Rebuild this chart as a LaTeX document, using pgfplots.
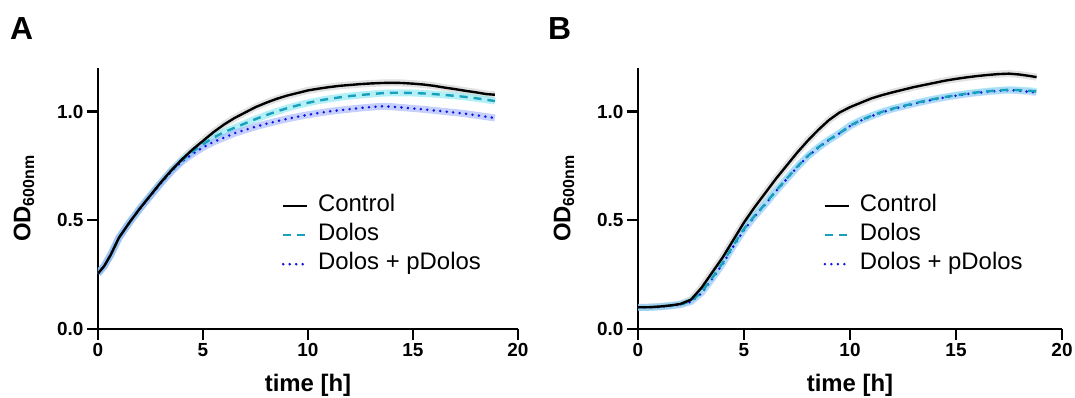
\documentclass[border=0pt]{standalone}
\usepackage{pgfplots}
\pgfplotsset{compat=1.18}
\usepackage{fontspec}
\setmainfont{Liberation Sans}
\definecolor{dolos}{RGB}{24,160,188}
\definecolor{pdolos}{RGB}{20,20,225}
\definecolor{bandgray}{RGB}{200,200,200}
\definecolor{bandcyan}{RGB}{120,228,240}
\definecolor{bandblue}{RGB}{150,170,255}

\pgfplotstableread{
t v
0 0.255
0.3 0.29
0.6 0.34
1.0 0.42
1.5 0.49
2.0 0.555
2.5 0.615
3.0 0.675
3.5 0.73
4.0 0.78
4.5 0.825
5.0 0.865
5.5 0.905
6.0 0.94
6.5 0.97
7.0 0.995
7.5 1.02
8.0 1.04
8.5 1.058
9.0 1.073
9.5 1.085
10.0 1.097
10.5 1.105
11.0 1.112
11.5 1.118
12.0 1.122
12.5 1.126
13.0 1.129
13.5 1.131
14.0 1.132
14.5 1.131
15.0 1.128
15.5 1.124
16.0 1.118
16.5 1.11
17.0 1.103
17.5 1.095
18.0 1.088
18.5 1.08
18.9 1.077
}\ctrlA

\pgfplotstableread{
t v
0 0.255
0.3 0.29
0.6 0.34
1.0 0.42
1.5 0.49
2.0 0.555
2.5 0.615
3.0 0.673
3.5 0.728
4.0 0.775
4.5 0.815
5.0 0.85
5.5 0.88
6.0 0.905
6.5 0.925
7.0 0.945
7.5 0.965
8.0 0.983
8.5 1.0
9.0 1.015
9.5 1.028
10.0 1.04
10.5 1.05
11.0 1.058
11.5 1.065
12.0 1.071
12.5 1.076
13.0 1.08
13.5 1.084
14.0 1.086
14.5 1.086
15.0 1.085
15.5 1.083
16.0 1.08
16.5 1.076
17.0 1.072
17.5 1.067
18.0 1.061
18.5 1.054
18.9 1.048
}\dolosA

\pgfplotstableread{
t v
0 0.255
0.3 0.29
0.6 0.34
1.0 0.42
1.5 0.49
2.0 0.553
2.5 0.612
3.0 0.67
3.5 0.725
4.0 0.77
4.5 0.805
5.0 0.835
5.5 0.86
6.0 0.88
6.5 0.9
7.0 0.915
7.5 0.93
8.0 0.943
8.5 0.955
9.0 0.966
9.5 0.976
10.0 0.985
10.5 0.993
11.0 1.0
11.5 1.006
12.0 1.011
12.5 1.016
13.0 1.02
13.5 1.024
14.0 1.022
14.5 1.018
15.0 1.014
15.5 1.01
16.0 1.005
16.5 1.0
17.0 0.995
17.5 0.99
18.0 0.983
18.5 0.976
18.9 0.97
}\pdolosA

\pgfplotstableread{
t v
0 0.1
0.5 0.1
1.0 0.103
1.5 0.108
2.0 0.115
2.5 0.135
3.0 0.19
3.5 0.26
4.0 0.33
4.5 0.41
5.0 0.49
5.5 0.56
6.0 0.625
6.5 0.69
7.0 0.75
7.5 0.81
8.0 0.865
8.5 0.915
9.0 0.96
9.5 0.995
10.0 1.02
10.5 1.04
11.0 1.06
11.5 1.075
12.0 1.088
12.5 1.1
13.0 1.112
13.5 1.122
14.0 1.132
14.5 1.142
15.0 1.15
15.5 1.157
16.0 1.163
16.5 1.168
17.0 1.172
17.5 1.174
18.0 1.17
18.5 1.163
18.8 1.158
}\ctrlB

\pgfplotstableread{
t v
0 0.1
0.5 0.1
1.0 0.102
1.5 0.107
2.0 0.113
2.5 0.128
3.0 0.17
3.5 0.235
4.0 0.305
4.5 0.385
5.0 0.46
5.5 0.52
6.0 0.575
6.5 0.635
7.0 0.69
7.5 0.745
8.0 0.795
8.5 0.835
9.0 0.87
9.5 0.9
10.0 0.935
10.5 0.96
11.0 0.98
11.5 0.998
12.0 1.013
12.5 1.025
13.0 1.037
13.5 1.048
14.0 1.058
14.5 1.067
15.0 1.075
15.5 1.082
16.0 1.088
16.5 1.093
17.0 1.097
17.5 1.1
18.0 1.098
18.5 1.095
18.8 1.092
}\dolosB

\pgfplotstableread{
t v
0 0.1
0.5 0.1
1.0 0.102
1.5 0.106
2.0 0.112
2.5 0.125
3.0 0.165
3.5 0.23
4.0 0.3
4.5 0.38
5.0 0.455
5.5 0.517
6.0 0.573
6.5 0.633
7.0 0.688
7.5 0.743
8.0 0.793
8.5 0.833
9.0 0.868
9.5 0.899
10.0 0.933
10.5 0.958
11.0 0.978
11.5 0.996
12.0 1.011
12.5 1.023
13.0 1.035
13.5 1.046
14.0 1.056
14.5 1.065
15.0 1.073
15.5 1.08
16.0 1.086
16.5 1.091
17.0 1.095
17.5 1.098
18.0 1.095
18.5 1.09
18.8 1.086
}\pdolosB

\pgfplotsset{
  panel/.style={
    scale only axis, height=261bp,
    xmin=0, xmax=20, ymin=0, ymax=1.2,
    axis x line*=bottom, axis y line*=left,
    axis line style={line width=2.4bp, black},
    every tick/.style={line width=2.4bp, black},
    tick align=outside, major tick length=11bp,
    xtick={0,5,10,15,20}, ytick={0,0.5,1.0},
    /pgf/number format/assume math mode=true,
    yticklabel style={/pgf/number format/fixed, /pgf/number format/fixed zerofill, /pgf/number format/precision=1},
    ticklabel style={font=\fontsize{19}{22}\selectfont\bfseries},
    xlabel={time [h]},
    ylabel={OD\textsubscript{\fontsize{16}{18}\selectfont 600nm}},
    every axis x label/.style={at={(rel axis cs:0.5,0)}, yshift=-62bp, anchor=base, font=\fontsize{24}{28}\selectfont\bfseries},
    every axis y label/.style={at={(rel axis cs:0,0.5)}, xshift=-74bp, rotate=90, anchor=center, font=\fontsize{24}{28}\selectfont\bfseries},
    legend style={at={(rel axis cs:0.43,0.525)}, anchor=north west, draw=none, fill=none,
      font=\fontsize{24}{27}\selectfont, row sep=5bp, column sep=8bp,
      nodes={inner sep=1.5bp, text height=16bp, text depth=5bp}},
    legend cell align=left, reverse legend,
    legend image code/.code={\draw[#1] (0bp,0bp) -- (24bp,0bp);},
    band/.style={line width=7bp, opacity=0.55, forget plot},
    ctrl/.style={black, line width=2.4bp},
    dol/.style={dolos, line width=2.4bp, dash pattern=on 8bp off 6bp},
    pdol/.style={pdolos, line width=2.8bp, dash pattern=on 0pt off 6.5bp, line cap=round},
  }
}

\begin{document}
\begin{tikzpicture}
\useasboundingbox (-98bp,-69bp) rectangle (977bp,329bp);
\begin{axis}[panel, width=420bp, at={(0bp,0bp)}, anchor=south west]
\addplot[band, bandgray] table[x=t,y=v] {\ctrlA};
\addplot[band, bandcyan] table[x=t,y=v] {\dolosA};
\addplot[band, bandblue] table[x=t,y=v] {\pdolosA};
\addplot[pdol] table[x=t,y=v] {\pdolosA};
\addplot[dol] table[x=t,y=v] {\dolosA};
\addplot[ctrl] table[x=t,y=v] {\ctrlA};
\legend{Dolos + pDolos, Dolos, Control}
\end{axis}
\begin{axis}[panel, width=424bp, at={(540bp,0bp)}, anchor=south west]
\addplot[band, bandgray] table[x=t,y=v] {\ctrlB};
\addplot[band, bandcyan] table[x=t,y=v] {\dolosB};
\addplot[band, bandblue, opacity=0.3] table[x=t,y=v] {\pdolosB};
\addplot[pdol] table[x=t,y=v] {\pdolosB};
\addplot[dol] table[x=t,y=v] {\dolosB};
\addplot[ctrl] table[x=t,y=v] {\ctrlB};
\legend{Dolos + pDolos, Dolos, Control}
\end{axis}
\node[anchor=base west, font=\fontsize{32}{36}\selectfont\bfseries, inner sep=0pt] at (-88bp,289bp) {A};
\node[anchor=base west, font=\fontsize{32}{36}\selectfont\bfseries, inner sep=0pt] at (450bp,289bp) {B};
\end{tikzpicture}
\end{document}
